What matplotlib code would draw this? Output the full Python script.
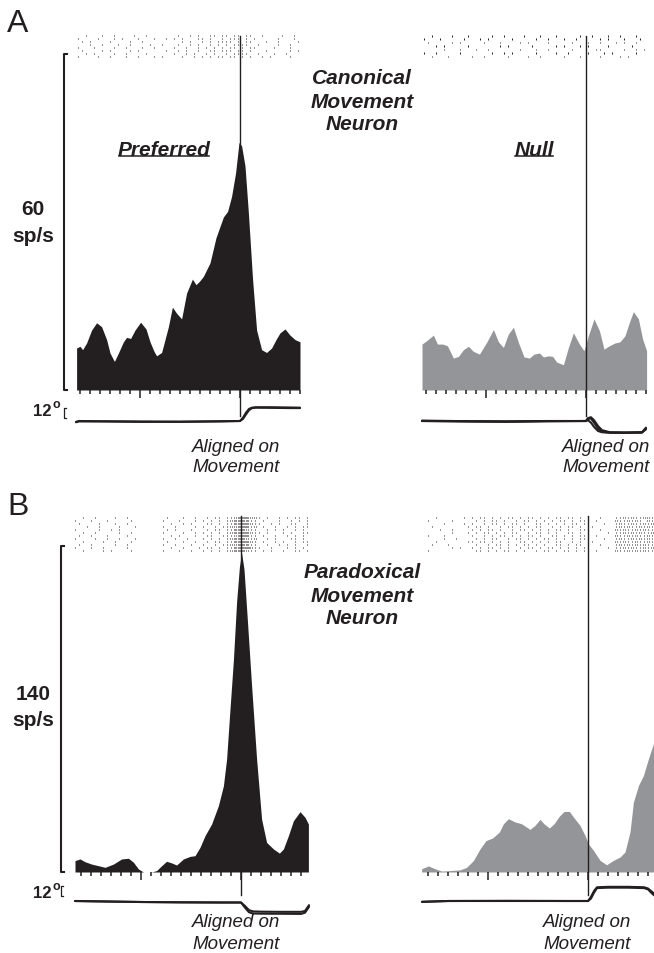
import numpy as np
import matplotlib.pyplot as plt
from matplotlib.lines import Line2D
from matplotlib.transforms import IdentityTransform

plt.rcParams['font.family'] = ['Liberation Sans', 'DejaVu Sans']

INK = '#231f20'
GREY = '#939598'

# time in ms re: movement onset, firing rate in sp/s, eye position in deg

A_PREF_T = [-817, -800, -787, -767, -742, -717, -692, -667, -650, -628, -608, -583, -567, -547, -525,
            -497, -470, -450, -430, -417, -392, -375, -358, -338, -317, -292, -267, -238, -220, -203,
            -183, -150, -120, -100, -83, -62, -42, -22, -5, 8, 25, 42, 63, 83, 108, 133, 158, 180,
            200, 225, 250, 275, 300]
A_PREF_R = [7.5, 7.8, 7.2, 8.4, 10.7, 12.0, 11.3, 9.0, 6.6, 5.1, 6.6, 8.6, 9.4, 9.2, 10.7,
            12.1, 10.9, 8.6, 6.9, 6.1, 6.7, 9.0, 11.3, 14.8, 13.7, 12.7, 17.3, 19.8, 18.8, 19.4,
            20.3, 22.7, 27.2, 29.2, 30.9, 31.9, 34.6, 38.8, 44.2, 43.6, 40.0, 31.6, 19.7, 10.7, 7.2,
            6.7, 7.5, 9.0, 10.2, 10.9, 9.8, 9.0, 8.6]

A_NULL_T = [-820, -797, -763, -743, -717, -693, -663, -638, -613, -588, -563, -533, -497, -463, -438,
            -413, -388, -363, -338, -310, -283, -260, -233, -213, -188, -167, -147, -113, -88, -63,
            -33, -10, 12, 40, 67, 90, 117, 145, 170, 195, 217, 237, 262, 283, 303]
A_NULL_R = [8.2, 8.8, 9.8, 8.2, 8.2, 7.9, 5.7, 6.0, 7.2, 7.8, 6.9, 6.4, 8.5, 10.8, 8.6,
            7.6, 10.0, 11.2, 8.5, 5.9, 5.7, 6.4, 6.6, 5.9, 6.1, 6.0, 5.0, 4.5, 7.6, 10.2,
            8.2, 7.0, 9.7, 12.7, 10.6, 7.3, 7.9, 8.4, 8.6, 9.7, 12.1, 14.0, 12.7, 9.1, 7.0]

B_PREF_T = [-830, -805, -780, -747, -713, -680, -638, -597, -563, -538, -513, -488, -447, -422, -397,
            -372, -347, -322, -288, -255, -230, -205, -180, -147, -113, -88, -72, -55, -38, -22,
            -8, 3, 15, 32, 53, 78, 103, 128, 162, 192, 212, 237, 262, 295, 320, 337]
B_PREF_R = [4.9, 5.6, 4.4, 3.4, 2.7, 2.0, 3.4, 5.6, 5.9, 4.2, 1.3, 0, 0, 0.6, 2.7,
            4.6, 3.9, 3.0, 5.6, 6.7, 7.0, 10.6, 15.6, 20.6, 28.5, 37.0, 48.5, 70, 91, 116,
            131, 137, 130, 108, 80, 48.5, 22.7, 12.7, 9.9, 8.1, 9.9, 15.6, 22, 25.9, 23.5, 20.6]

B_NULL_T = [-832, -798, -765, -732, -690, -640, -607, -573, -540, -510, -477, -443, -423, -398, -365,
            -332, -290, -265, -240, -220, -193, -170, -143, -120, -93, -73, -40, -15, 2, 27,
            60, 93, 127, 160, 185, 210, 227, 252, 277, 302, 327, 360]
B_NULL_R = [1.4, 2.6, 1.4, 0.4, 0.6, 0.9, 2.0, 4.9, 9.9, 13.5, 14.6, 17.2, 20.7, 22.9, 21.5,
            20.7, 18.3, 20.0, 22.6, 20.7, 18.9, 20.7, 24.0, 26.0, 26.0, 23.6, 20.0, 15.7, 12.1, 9.3,
            5.0, 3.1, 5.0, 6.4, 8.6, 17.2, 30, 37.1, 41.4, 48.6, 55, 65]

# rasters: one string per trial, one char per 20 ms bin, digit = spikes in that bin
BIN = 20
A_PREF_T0 = -820
A_PREF_RASTER = [
    "..1...1..1....1..1.." "...." ".1..1.1..11.1" "1.11.11" "..1....1..1.",
    "1....1...1.1...1...1" "..1." "1.1...11.1..1" ".111.1." "1.....1...1.",
    ".1.1....1....1..1..." "...." "..1.1..1.1.11" "11.1.11" "...1..1....1",
    "...1..1...1..1....1." ".1.." ".1..1.1..1.1." "1.1111." ".1....1..1..",
    "1...1....1..1...1..1" "...." "1..1..1.1.1.1" ".11.1.1" "1....1...1..",
    ".1....1.1....1.1...." "..1." ".1.1..1..11.1" "11.11.1" "...1.....1.1",
    "..1.1....1..1....1.." "...." "1..1.1..1.1.." "1.1111." ".1...1..1...",
    "1....1..1...1..1...1" ".1.." "..1..1.1.1.11" ".11.1.1" "..1.1....1..",
]
A_NULL_T0 = -820
A_NULL_RASTER = [
    "..1....1...1.....1..1....1...1...1.....1..1...1..1...1..",
    "1...1.....1...1.1.....1.....1..1...1..1.....1.1...1...1.",
    ".1.....1.1.....1...1....1.1....1.....1...1..1...1.1..1..",
    "...1.1.....1.......1.1.....1.....1.1...1.1....1.....1...",
    ".....1...1...1..1.......1...1..1.....1.....11.....1..1.1",
    "1..1.....1.......1..1.1.....1....1..1....1...1.1.....1..",
    "..1...1.....1..1.....1....1..1.....1...1....1....1.1....",
]
B_PREF_T0 = -840
B_PREF_RASTER = [
    "..1..1....1..1.." "....." "..1...1..1." ".1.11.1" "123432" "21.1..1.1.11.1",
    "1...1...1.....1." "....." ".1...1...1." "1.1.1.1" "234331" "1.1...1..1.1.1",
    ".1....1...1..1.." "....." "...1..1.1.." ".11.1.1" "133432" "11..1.1..11..1",
    "...1..1....1...1" "....." ".1..1....1." "1..1.11" "224431" "2.1..1..1.1.11",
    "1.....1..1.1...." "....." "..1.1...1.." ".1.11.1" "133321" "1..1.1.1..1.1.",
    "..1..1.....1..1." "....." ".1....1..1." "1.1.1.1" "234432" "11.1...1.1..11",
    ".1..1...1....1.." "....." "...1.1...1." ".11..11" "123431" "1.1..1..1.1.1.",
    "1....1..1..1...1" "....." ".1..1..1..." "1.1.1.1" "234321" "2..1.1...11.1.",
    "..1....1..1...1." "....." "..1...1..1." ".1.11.1" "133432" "1.1..1.1..1.11",
    ".1..1.....1..1.." "....." ".1..1...1.." "1..1.11" "224331" "1..1..1.1.1..1",
    "1...1..1.....1.." "....." "...1..1...1" ".11.1.1" "133442" "11..1...1.1.1.",
    "..1....1.1....1." "....." ".1...1..1.." "1.1.1.1" "234321" "1.1.1..1..11.1",
]
B_NULL_T0 = -810
B_NULL_RASTER = [
    "..1......1." "1.11.1.1.11.1.11.1.1.11.11.1.1" "..1..." "1121211221212",
    "1.....1...." ".1.1.11.1..1.11.1.1.1.11.1.11." ".1...." "2112121.21121",
    "....1....1." "1..1.11.1.11.1..11.1.1.1.11.1." "...1.." "1211211212112",
    ".1........1" ".11.1..1.11.1.1.11..1.1.11.1.1" "1....." "1212112121211",
    "...1..1...." "1.1.11.1..1.11.1.1.1.11.1..11." "..1..." "2121121211212",
    "......1...1" ".1.11.1.1.11..1.11.1.1..11.1.1" "....1." "1121212112121",
    "1...1......" "1..1.1.11.1.1.11.1..11.1.1.11." ".1...." "2112121121211",
    "....1..1..." ".1.1.11..1.11.1.1.11.1.1.1.11." "...1.." "1211212121121",
    "..1.......1" "1.11.1.1.1..11.1.1.1.11..1.1.1" "1....." "2121121121212",
    ".1...1....." ".1..1.11.1.1.11.1.1..11.1.11.1" "..1..." "1212121211211",
    "......1.1.." "1.1.11.1.1..1.11.1.11.1.1.1.1." "....1." "1121211212121",
    "1.........." ".11.1.1.11.1.1..1.11.1.11.1.1." ".1...." "2112121211212",
]

# eye position traces (deg), several trials each
EYE_A_PREF_T = [-820, -805, -700, -500, -300, -100, 0, 15, 30, 45, 60, 80, 150, 250, 300]
EYE_A_PREF = [[-1.5, -0.5, -0.5, -1.0, -1.0, -0.5, 0, 4, 10, 14.5, 16, 16.5, 16.5, 16.2, 16.0],
              [-1.0, 0, -0.3, -0.6, -0.8, -0.3, 0, 2.5, 8, 13, 15.5, 16, 15.8, 15.5, 15.5]]
EYE_A_NULL_T = [-820, -600, -400, -200, 0, 10, 25, 40, 60, 80, 120, 200, 280, 300]
EYE_A_NULL = [[0, -0.5, -0.8, -0.3, 0, 2.5, 3, -2, -9, -13, -14, -14.2, -14, -9],
              [0.5, -0.2, -0.5, 0, 0, 1, -2, -7, -12, -13.5, -14, -14, -13.5, -8],
              [0, -0.4, -0.8, -0.2, 0, 3.5, 4.5, 1, -6, -11, -13.5, -13.8, -13.5, -10]]
EYE_B_PREF_T = [-830, -700, -500, -300, -100, 0, 20, 40, 60, 100, 200, 300, 320, 340]
EYE_B_PREF = [[0, -0.5, -1.2, -1.6, -1.8, -1.8, -6, -11, -12.5, -12.8, -13, -13, -12, -5],
              [0, -0.5, -1.2, -1.6, -1.8, -1.8, -8, -13.5, -15, -15.2, -15.3, -15.5, -14, -7]]
EYE_B_NULL_T = [-830, -700, -400, -100, 0, 15, 30, 45, 100, 200, 280, 300, 320, 345]
EYE_B_NULL = [[-1, 0, 0, 0, 0, 5, 12, 16.5, 17, 17, 16.5, 15, 11, 6],
              [-1, 0, 0.2, 0, 0, 3, 10, 15.5, 16, 16, 15.5, 14, 9, 4]]

MAJOR = [-500, 0]
MINOR = [t for t in range(-800, 301, 50) if t not in MAJOR]

# ---- layout (pixels) ----
W, H = 654, 954
MS = 0.2          # px per ms
DEG = 1.2         # deg per px
T_LO, T_HI = -870, 360

fig = plt.figure(figsize=(W / 100, H / 100), dpi=100)


def box(x0, x1, top, bottom):
    return fig.add_axes([x0 / W, 1 - bottom / H, (x1 - x0) / W, (bottom - top) / H])


def bare(ax):
    for s in ax.spines.values():
        s.set_visible(False)
    ax.set_xticks([])
    ax.set_yticks([])
    ax.set_xlim(T_LO, T_HI)
    ax.patch.set_alpha(0)


def label(x, y, s, size=15, **kw):
    return fig.text(x / W, 1 - y / H, s, fontsize=size, ha='center', va='center', color=INK, **kw)


LAY_A = dict(r_top=35, r_bot=59, top=55, base=391, line_top=37, line_bot=417, eye=422,
             rmax=60, bar_x=64, deg_lo=3.5)
LAY_B = dict(r_top=517, r_bot=553, top=547, base=873, line_top=517, line_bot=896, eye=902,
             rmax=140, bar_x=61, deg_lo=6.0)


def panel(x0, lay, t, r, color, raster, t0, eye_t, eyes, left):
    lo, hi = x0 + MS * T_LO, x0 + MS * T_HI

    # raster
    ax_r = box(lo, hi, lay['r_top'], lay['r_bot'])
    bare(ax_r)
    xs, ys = [], []
    for i, row in enumerate(raster):
        for j, c in enumerate(row):
            if c.isdigit():
                k = int(c)
                for m in range(k):
                    xs.append(t0 + j * BIN + (m + 0.5) * BIN / k)
                    ys.append(i)
    ys = np.array(ys)
    ax_r.vlines(xs, ys + 0.3, ys + 0.75, color=INK, lw=0.7)
    ax_r.set_ylim(len(raster), 0)

    # histogram
    ax = box(lo, hi, lay['top'], lay['base'])
    bare(ax)
    ax.fill_between(t, r, 0, color=color, lw=0)
    ax.set_ylim(0, lay['rmax'])
    ax.set_xticks(MAJOR)
    ax.set_xticks(MINOR, minor=True)
    ax.tick_params(axis='x', which='major', length=5.8, width=1.1, color=INK, labelbottom=False)
    ax.tick_params(axis='x', which='minor', length=2.9, width=1.1, color=INK)
    span = lay['base'] - lay['top']
    ax.axvline(0, ymin=(lay['base'] - lay['line_bot']) / span,
               ymax=(lay['base'] - lay['line_top']) / span, color=INK, lw=1.0, clip_on=False)

    # eye traces
    ax_e = box(lo, hi, lay['eye'] - 22, lay['eye'] + 18)
    bare(ax_e)
    ax_e.set_ylim(-18 * DEG, 22 * DEG)
    for e in eyes:
        ax_e.plot(eye_t, e, color=INK, lw=1.5, solid_capstyle='round')

    if left:
        bt = (lay['bar_x'] - x0) / MS
        ax.plot([bt + 15, bt, bt, bt + 15], [0, 0, lay['rmax'], lay['rmax']],
                color=INK, lw=1.5, clip_on=False)
        d = lay['deg_lo']
        ax_e.plot([bt + 12, bt, bt, bt + 12], [d, d, d + 12, d + 12],
                  color=INK, lw=0.9, clip_on=False)


panel(240, LAY_A, A_PREF_T, A_PREF_R, INK, A_PREF_RASTER, A_PREF_T0, EYE_A_PREF_T, EYE_A_PREF, True)
panel(586, LAY_A, A_NULL_T, A_NULL_R, GREY, A_NULL_RASTER, A_NULL_T0, EYE_A_NULL_T, EYE_A_NULL, False)
panel(241, LAY_B, B_PREF_T, B_PREF_R, INK, B_PREF_RASTER, B_PREF_T0, EYE_B_PREF_T, EYE_B_PREF, True)
panel(588, LAY_B, B_NULL_T, B_NULL_R, GREY, B_NULL_RASTER, B_NULL_T0, EYE_B_NULL_T, EYE_B_NULL, False)

# ---- text ----
label(18, 24, 'A', size=23)
label(18, 507, 'B', size=23)

for y, s in zip([79, 102, 125], ['Canonical', 'Movement', 'Neuron']):
    label(362, y, s, weight='bold', style='italic')
for y, s in zip([573, 596, 619], ['Paradoxical', 'Movement', 'Neuron']):
    label(362, y, s, weight='bold', style='italic')

heads = [label(164, 150, 'Preferred', weight='bold', style='italic'),
         label(534, 150, 'Null', weight='bold', style='italic')]

label(33, 210, '60', weight='bold')
label(33, 236, 'sp/s', weight='bold')
label(33, 695, '140', weight='bold')
label(33, 720, 'sp/s', weight='bold')

for y in (412, 894):
    label(42, y, '12', size=12, weight='bold')
    label(56, y - 7, 'o', size=9, weight='bold')

for x, (y1, y2) in [(236, (448, 468)), (606, (448, 468)), (236, (923, 945)), (587, (923, 945))]:
    label(x, y1, 'Aligned on', size=13.5, style='italic')
    label(x, y2, 'Movement', size=13.5, style='italic')

fig.canvas.draw()
for h in heads:
    bb = h.get_window_extent()
    fig.add_artist(Line2D([bb.x0 + 1, bb.x1 - 1], [bb.y0 + 2.5] * 2, color=INK, lw=1.1,
                          transform=IdentityTransform()))

fig.savefig('out.png', dpi=100)
